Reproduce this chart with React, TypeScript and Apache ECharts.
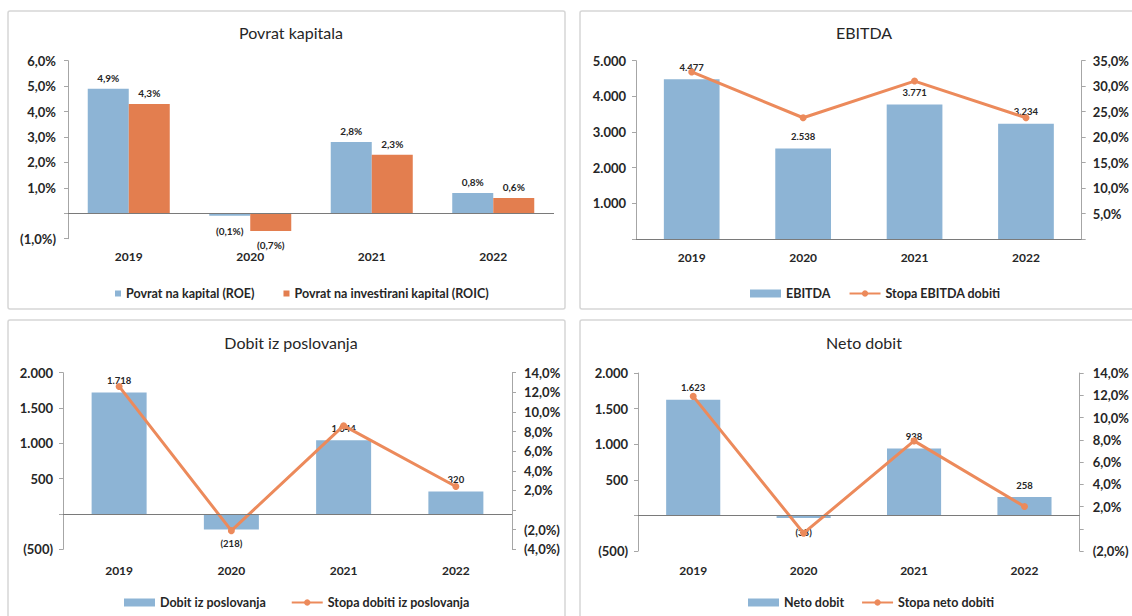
import React, { useEffect, useRef } from "react";
import * as echarts from "echarts";

// ---- data ----
const categories = ["2019", "2020", "2021", "2022"];
const roe = [4.9, -0.1, 2.8, 0.8];
const roic = [4.3, -0.7, 2.3, 0.6];
const ebitda = [4477, 2538, 3771, 3234];
const ebitdaMargin = [32.8, 23.8, 31.0, 23.8];
const operatingProfit = [1718, -218, 1044, 320];
const operatingMargin = [12.6, -2.1, 8.6, 2.4];
const netProfit = [1623, -38, 938, 258];
const netMargin = [11.9, -0.4, 7.9, 2.0];

const titles = ["Povrat kapitala", "EBITDA", "Dobit iz poslovanja", "Neto dobit"];

const BLUE = "#8DB4D5";
const ORANGE_BAR = "#E37E4F";
const ORANGE_LINE = "#EC8A5B";
const TEXT = "#262626";
const AXIS = "#a6a6a6";
const FONT = "Lato, 'Open Sans', sans-serif";

const thousands = (n: number) =>
  String(Math.round(n)).replace(/\B(?=(\d{3})+(?!\d))/g, ".");
const fmtNum = (v: number) =>
  v === 0 ? "" : v < 0 ? `(${thousands(-v)})` : thousands(v);
const pct = (v: number) => Math.abs(v).toFixed(1).replace(".", ",") + "%";
const fmtPct = (v: number) => (Math.abs(v) < 1e-9 ? "" : v < 0 ? `(${pct(v)})` : pct(v));

const barData = (arr: number[], posDist: number, negDist: number) =>
  arr.map((v) => ({
    value: v,
    label: { position: v >= 0 ? "top" : "bottom", distance: v >= 0 ? posDist : negDist },
  }));

const zeroLine = {
  silent: true,
  symbol: "none",
  label: { show: false },
  lineStyle: { color: "#7a7a7a", width: 1, type: "solid" },
  data: [{ yAxis: 0 }],
};

export default function App() {
  const ref = useRef<HTMLDivElement>(null);

  useEffect(() => {
    if (!ref.current) return;
    const chart = echarts.init(ref.current, null, { renderer: "svg" });

    const xAxisBase = (gridIndex: number, margin: number) => ({
      type: "category",
      gridIndex,
      data: categories,
      axisLine: { show: false, onZero: false },
      axisTick: { show: false },
      axisLabel: { margin, fontSize: 12, fontWeight: "bold", color: TEXT, fontFamily: FONT },
    });

    const yAxisBase = (
      gridIndex: number,
      position: string,
      min: number,
      max: number,
      interval: number,
      formatter: (v: number) => string,
      margin: number
    ) => ({
      type: "value",
      gridIndex,
      position,
      min,
      max,
      interval,
      axisLine: { show: true, lineStyle: { color: AXIS, width: 1 } },
      axisTick: { show: true, length: 4, lineStyle: { color: AXIS } },
      splitLine: { show: false },
      axisLabel: {
        formatter,
        margin,
        fontSize: 13,
        fontWeight: "bold",
        color: TEXT,
        fontFamily: FONT,
      },
    });

    const barLabel = (size: number, fmt: (v: number) => string) => ({
      show: true,
      fontSize: size,
      fontWeight: "bold",
      color: TEXT,
      fontFamily: FONT,
      formatter: (p: any) => fmt(p.value),
    });

    const legendText = { fontSize: 12.5, fontWeight: "bold", color: TEXT, fontFamily: FONT };

    const panelRects = [
      { x: 8, y: 11, w: 557, h: 298 },
      { x: 580, y: 11, w: 560, h: 298 },
      { x: 8, y: 320, w: 557, h: 300 },
      { x: 580, y: 320, w: 560, h: 300 },
    ];

    const titlePos = [
      { x: 291, y: 24 },
      { x: 864, y: 24 },
      { x: 291, y: 334 },
      { x: 864, y: 334 },
    ];

    const option: any = {
      animation: false,
      backgroundColor: "#ffffff",
      textStyle: { fontFamily: FONT },
      graphic: panelRects.map((r) => ({
        type: "rect",
        silent: true,
        z: -10,
        shape: { x: r.x, y: r.y, width: r.w, height: r.h, r: 2 },
        style: { fill: "#ffffff", stroke: "#d6d6d6", lineWidth: 1.5 },
      })),
      title: titles.map((t, i) => ({
        text: t,
        left: titlePos[i].x,
        top: titlePos[i].y,
        textAlign: "center",
        padding: 0,
        textStyle: { fontSize: 16, fontWeight: "normal", color: TEXT, fontFamily: FONT },
      })),
      grid: [
        { left: 68, top: 60.7, width: 486, height: 178 },
        { left: 636, top: 60.7, width: 450, height: 178.3 },
        { left: 63, top: 372.7, width: 449, height: 176.6 },
        { left: 638, top: 373, width: 445, height: 178 },
      ],
      xAxis: [xAxisBase(0, 12), xAxisBase(1, 12), xAxisBase(2, 15), xAxisBase(3, 13)],
      yAxis: [
        yAxisBase(0, "left", -1, 6, 1, fmtPct, 12),
        yAxisBase(1, "left", 0, 5000, 1000, fmtNum, 10),
        yAxisBase(1, "right", 0, 35, 5, fmtPct, 11),
        yAxisBase(2, "left", -500, 2000, 500, fmtNum, 10),
        yAxisBase(2, "right", -4, 14, 2, fmtPct, 12),
        yAxisBase(3, "left", -500, 2000, 500, fmtNum, 10),
        yAxisBase(3, "right", -2, 14, 2, fmtPct, 13),
      ],
      legend: [
        {
          left: 110,
          top: 282,
          itemWidth: 6,
          itemHeight: 6,
          itemGap: 29,
          icon: "rect",
          textStyle: legendText,
          data: ["Povrat na kapital (ROE)", "Povrat na investirani kapital (ROIC)"],
        },
        {
          left: 745,
          top: 282,
          itemWidth: 31,
          itemHeight: 8,
          itemGap: 18,
          textStyle: legendText,
          data: [{ name: "EBITDA", icon: "rect" }, { name: "Stopa EBITDA dobiti" }],
        },
        {
          left: 119,
          top: 591,
          itemWidth: 31,
          itemHeight: 8,
          itemGap: 25,
          textStyle: legendText,
          data: [{ name: "Dobit iz poslovanja", icon: "rect" }, { name: "Stopa dobiti iz poslovanja" }],
        },
        {
          left: 743,
          top: 591,
          itemWidth: 31,
          itemHeight: 8,
          itemGap: 17,
          textStyle: legendText,
          data: [{ name: "Neto dobit", icon: "rect" }, { name: "Stopa neto dobiti" }],
        },
      ],
      series: [
        {
          name: "Povrat na kapital (ROE)",
          type: "bar",
          xAxisIndex: 0,
          yAxisIndex: 0,
          barGap: "0%",
          barCategoryGap: "32.5%",
          itemStyle: { color: BLUE },
          label: barLabel(10, fmtPct),
          data: barData(roe, 6, 10),
          markLine: zeroLine,
        },
        {
          name: "Povrat na investirani kapital (ROIC)",
          type: "bar",
          xAxisIndex: 0,
          yAxisIndex: 0,
          barGap: "0%",
          barCategoryGap: "32.5%",
          itemStyle: { color: ORANGE_BAR },
          label: barLabel(10, fmtPct),
          data: barData(roic, 6, 9),
        },
        {
          name: "EBITDA",
          type: "bar",
          xAxisIndex: 1,
          yAxisIndex: 1,
          barCategoryGap: "50%",
          itemStyle: { color: BLUE },
          label: barLabel(9.5, fmtNum),
          data: barData(ebitda, 7, 9),
          markLine: zeroLine,
        },
        {
          name: "Stopa EBITDA dobiti",
          type: "line",
          xAxisIndex: 1,
          yAxisIndex: 2,
          symbol: "circle",
          symbolSize: 7,
          lineStyle: { color: ORANGE_LINE, width: 3 },
          itemStyle: { color: ORANGE_LINE },
          data: ebitdaMargin,
        },
        {
          name: "Dobit iz poslovanja",
          type: "bar",
          xAxisIndex: 2,
          yAxisIndex: 3,
          barCategoryGap: "51%",
          itemStyle: { color: BLUE },
          label: barLabel(9.5, fmtNum),
          data: barData(operatingProfit, 7, 9),
          markLine: zeroLine,
        },
        {
          name: "Stopa dobiti iz poslovanja",
          type: "line",
          xAxisIndex: 2,
          yAxisIndex: 4,
          symbol: "circle",
          symbolSize: 7,
          lineStyle: { color: ORANGE_LINE, width: 3 },
          itemStyle: { color: ORANGE_LINE },
          data: operatingMargin,
        },
        {
          name: "Neto dobit",
          type: "bar",
          xAxisIndex: 3,
          yAxisIndex: 5,
          barCategoryGap: "51%",
          itemStyle: { color: BLUE },
          label: barLabel(9.5, fmtNum),
          data: barData(netProfit, 7, 9),
          markLine: zeroLine,
        },
        {
          name: "Stopa neto dobiti",
          type: "line",
          xAxisIndex: 3,
          yAxisIndex: 6,
          symbol: "circle",
          symbolSize: 7,
          lineStyle: { color: ORANGE_LINE, width: 3 },
          itemStyle: { color: ORANGE_LINE },
          data: netMargin,
        },
      ],
    };

    chart.setOption(option);
    return () => chart.dispose();
  }, []);

  return (
    <div
      ref={ref}
      style={{ position: "fixed", left: 0, top: 0, width: 1132, height: 616, background: "#fff" }}
    />
  );
}
